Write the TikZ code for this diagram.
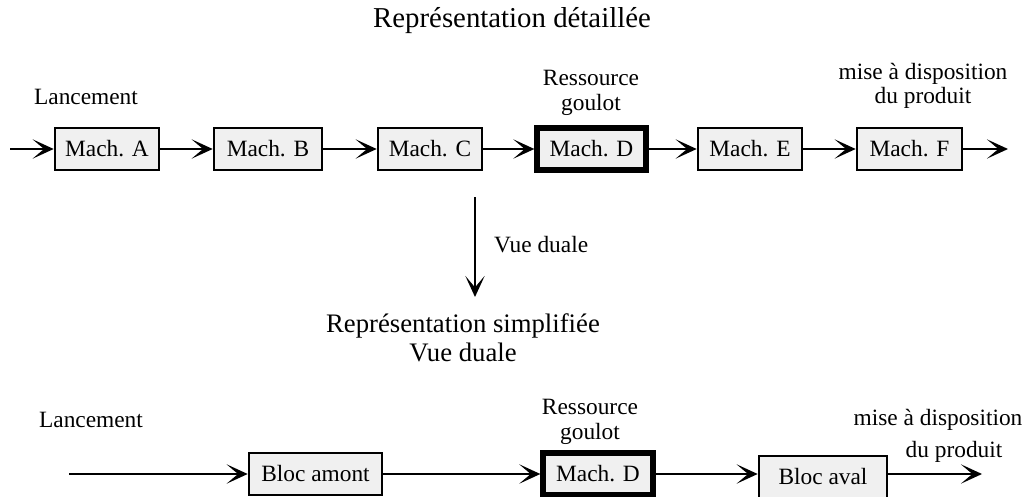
\documentclass[tikz,border=0pt]{standalone}
\usepackage{fontspec}
\setmainfont{Liberation Serif}
\usetikzlibrary{arrows.meta}

\tikzset{
    mach/.style={draw, line width=1.5pt, fill=gray!12, minimum height=0.84cm, inner sep=2pt},
    goulot/.style={mach, line width=3pt},
    fleche/.style={line width=1.3pt, -{Stealth[length=12pt,width=11pt,inset=6.5pt]}},
    lbl/.style={align=center, font=\fontsize{13.3}{14}\selectfont},
}

\begin{document}
\begin{tikzpicture}[x=0.02cm, y=-0.02cm, font=\fontsize{13.3}{16}\selectfont]
        \useasboundingbox (0,0) rectangle (1029,497);

        % representation detaillee
        \node[font=\fontsize{16.4}{18}\selectfont] (titre) at (512, 21) {Représentation détaillée};

        \node[lbl] (lanc) at (86, 97) {Lancement};
        \node[lbl] (ress) at (591, 93) {Ressource\\goulot};
        \node[lbl] (mise) at (923, 86) {mise à disposition\\du produit};

        \coordinate (debut) at (10, 149);
        \node[mach, minimum width=2.08cm] (machA) at (107, 149) {Mach. A};
        \node[mach, minimum width=2.16cm] (machB) at (268, 149) {Mach. B};
        \node[mach, minimum width=2.08cm] (machC) at (430, 149) {Mach. C};
        \node[goulot, minimum width=2.18cm] (machD) at (591.5, 149) {Mach. D};
        \node[mach, minimum width=2.08cm] (machE) at (750, 149) {Mach. E};
        \node[mach, minimum width=2.10cm] (machF) at (909.5, 149) {Mach. F};
        \coordinate (fin) at (1008, 149);

        \draw[fleche] (debut) -- (machA);
        \draw[fleche] (machA) -- (machB);
        \draw[fleche] (machB) -- (machC);
        \draw[fleche] (machC) -- (machD);
        \draw[fleche] (machD) -- (machE);
        \draw[fleche] (machE) -- (machF);
        \draw[fleche] (machF) -- (fin);

        % passage a la vue duale
        \coordinate (haut) at (475, 197);
        \coordinate (bas) at (475, 297);
        \draw[fleche] (haut) -- (bas);
        \node[anchor=west] (vue) at (488, 245) {Vue duale};

        % representation simplifiee
        \node[align=center, font=\fontsize{15.2}{16.8}\selectfont] (titre2) at (463, 338) {Représentation simplifiée\\Vue duale};

        \node (lanc2) at (91, 420) {Lancement};
        \node[lbl] (ress2) at (590, 422) {Ressource\\goulot};
        \node (mise2) at (938, 420) {mise à disposition};
        \node (prod2) at (954, 452) {du produit};

        \coordinate (debut2) at (69, 474);
        \node[mach, minimum width=2.66cm] (amont) at (315.5, 474) {Bloc amont};
        \node[goulot, minimum width=2.20cm] (machD2) at (598, 474) {Mach. D};
        \node[mach, minimum width=2.56cm] (aval) at (823, 477) {Bloc aval};
        \coordinate (fin2) at (982, 474);

        \draw[fleche] (debut2) -- (amont);
        \draw[fleche] (amont) -- (machD2);
        \draw[fleche] (machD2) -- (aval.west |- machD2);
        \draw[fleche] (aval.east |- fin2) -- (fin2);

    \end{tikzpicture}
\end{document}
